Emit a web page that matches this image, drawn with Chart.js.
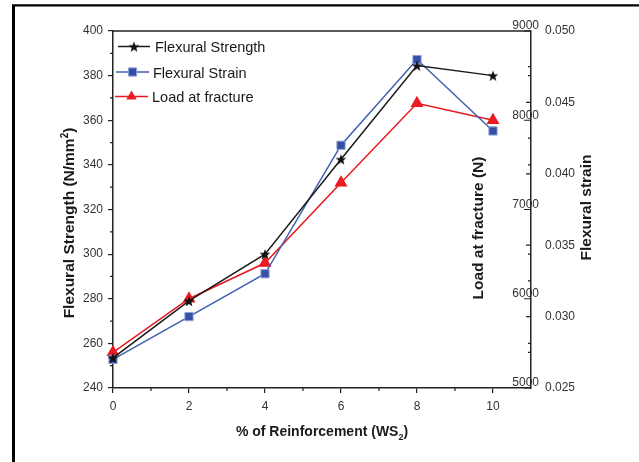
<!DOCTYPE html>
<html>
<head>
<meta charset="utf-8">
<script src="https://cdn.jsdelivr.net/npm/chart.js@4.4.0/dist/chart.umd.min.js"></script>
<style>
  html, body { margin: 0; padding: 0; background: #fff; }
  #wrap { position: relative; width: 639px; height: 462px; }
</style>
</head>
<body>
<div id="wrap"><canvas id="myChart" width="639" height="462"></canvas></div>
<script>
// data
const reinforcement = [0, 2, 4, 6, 8, 10];
const flexuralStrength = [253.5, 279, 300, 342.5, 384.5, 380];
const flexuralStrain = [0.0270, 0.0300, 0.0330, 0.0420, 0.0480, 0.0430];
const loadAtFracture = [5400, 6000, 6400, 7300, 8190, 8000];

// tick values
const xTicks = [0, 2, 4, 6, 8, 10];
const xMinor = [1, 3, 5, 7, 9];
const strengthTicks = [240, 260, 280, 300, 320, 340, 360, 380, 400];
const strengthMinor = [250, 270, 290, 310, 330, 350, 370, 390];
const loadTicks = [5000, 6000, 7000, 8000, 9000];
const loadMinor = [5500, 6500, 7500, 8500];
const strainTicks = [0.025, 0.030, 0.035, 0.040, 0.045, 0.050];
const strainMinor = [0.0275, 0.0325, 0.0375, 0.0425, 0.0475];

const FONT = "'Liberation Sans', Arial, sans-serif";
const AXIS = '#222';
const TXT = '#333';

// filled 5 point star used as point style
function makeStar(size, color) {
    const c = document.createElement('canvas');
    c.width = size; c.height = size;
    const g = c.getContext('2d');
    const cx = size / 2, cy = size / 2, R = size / 2 - 0.3, r = R * 0.42;
    g.beginPath();
    for (let i = 0; i < 10; i++) {
        const rad = i % 2 === 0 ? R : r;
        const ang = -Math.PI / 2 + i * Math.PI / 5;
        g.lineTo(cx + rad * Math.cos(ang), cy + rad * Math.sin(ang) + 0.6);
    }
    g.closePath();
    g.fillStyle = color;
    g.fill();
    return c;
}
const starImg = makeStar(12, '#111');

function pts(ys) {
    return reinforcement.map((x, i) => ({x: x, y: ys[i]}));
}

const datasets = [
    {
        label: 'Flexural Strength',
        data: pts(flexuralStrength),
        yAxisID: 'y',
        borderColor: '#1a1a1a',
        backgroundColor: '#111',
        borderWidth: 1.5,
        pointStyle: starImg,
        pointRadius: 6
    },
    {
        label: 'Flexural Strain',
        data: pts(flexuralStrain),
        yAxisID: 'yStrain',
        borderColor: '#3f5fb0',
        backgroundColor: '#3350a6',
        pointBorderColor: '#8ea0d4',
        pointBorderWidth: 1,
        borderWidth: 1.5,
        pointStyle: 'rect',
        pointRadius: 5.8
    },
    {
        label: 'Load at fracture',
        data: pts(loadAtFracture),
        yAxisID: 'yLoad',
        borderColor: '#e8191f',
        backgroundColor: '#ea1c24',
        borderWidth: 1.5,
        pointStyle: 'triangle',
        pointRadius: 6
    }
];

function setTicks(values) {
    return scale => { scale.ticks = values.map(v => ({value: v})); };
}

// draws text with a raised or lowered small "2"
function drawRich(ctx, parts, size, cx, baseY, rotate) {
    ctx.save();
    ctx.translate(cx, baseY);
    if (rotate) ctx.rotate(-Math.PI / 2);
    const big = 'bold ' + size + 'px ' + FONT;
    const small = 'bold ' + Math.round(size * 0.62) + 'px ' + FONT;
    let w = 0;
    parts.forEach(p => { ctx.font = p.shift ? small : big; w += ctx.measureText(p.t).width; });
    let x = -w / 2;
    ctx.textAlign = 'left';
    ctx.textBaseline = 'alphabetic';
    ctx.fillStyle = '#1a1a1a';
    parts.forEach(p => {
        ctx.font = p.shift ? small : big;
        ctx.fillText(p.t, x, p.shift || 0);
        x += ctx.measureText(p.t).width;
    });
    ctx.restore();
}

const decorations = {
    id: 'decorations',
    afterDraw(chart) {
        const ctx = chart.ctx;
        const a = chart.chartArea;
        const sx = chart.scales.x, sy = chart.scales.y;
        const sl = chart.scales.yLoad, ss = chart.scales.yStrain;
        ctx.save();

        // outer frame (open on the right and bottom)
        ctx.strokeStyle = '#000';
        ctx.lineWidth = 3;
        ctx.beginPath();
        ctx.moveTo(13.5, 462); ctx.lineTo(13.5, 5);
        ctx.stroke();
        ctx.lineWidth = 2.2;
        ctx.beginPath();
        ctx.moveTo(12, 5.3); ctx.lineTo(639, 5.3);
        ctx.stroke();

        // top border of the plot
        ctx.strokeStyle = AXIS;
        ctx.lineWidth = 1.5;
        ctx.beginPath();
        ctx.moveTo(a.left, a.top); ctx.lineTo(a.right, a.top);
        ctx.stroke();

        ctx.lineWidth = 1.2;
        ctx.beginPath();
        // minor ticks, bottom axis (outward)
        xMinor.forEach(v => {
            const px = sx.getPixelForValue(v);
            ctx.moveTo(px, a.bottom); ctx.lineTo(px, a.bottom + 3);
        });
        // minor ticks, left axis (outward)
        strengthMinor.forEach(v => {
            const py = sy.getPixelForValue(v);
            ctx.moveTo(a.left, py); ctx.lineTo(a.left - 3, py);
        });
        // right axis ticks point inward
        loadTicks.forEach(v => {
            const py = sl.getPixelForValue(v);
            ctx.moveTo(a.right, py); ctx.lineTo(a.right - 7, py);
        });
        loadMinor.forEach(v => {
            const py = sl.getPixelForValue(v);
            ctx.moveTo(a.right, py); ctx.lineTo(a.right - 3, py);
        });
        strainTicks.forEach(v => {
            const py = ss.getPixelForValue(v);
            ctx.moveTo(a.right, py); ctx.lineTo(a.right - 5, py);
        });
        strainMinor.forEach(v => {
            const py = ss.getPixelForValue(v);
            ctx.moveTo(a.right, py); ctx.lineTo(a.right - 3, py);
        });
        ctx.stroke();

        // axis titles
        drawRich(ctx, [{t: 'Flexural Strength (N/mm'}, {t: '2', shift: -6}, {t: ')'}], 15.5, 73.5, 223, true);
        drawRich(ctx, [{t: 'Load at fracture (N)'}], 15.5, 482.5, 228, true);
        drawRich(ctx, [{t: 'Flexural strain'}], 15.5, 590.5, 207.5, true);
        drawRich(ctx, [{t: '% of Reinforcement (WS'}, {t: '2', shift: 4}, {t: ')'}], 14, 322, 436, false);

        // legend
        const rows = [
            {ds: 0, x0: 118, x1: 150, y: 46.5, tx: 155, ty: 51.7},
            {ds: 1, x0: 116, x1: 149, y: 72, tx: 153, ty: 77.5},
            {ds: 2, x0: 115, x1: 148, y: 96.5, tx: 152, ty: 101.5}
        ];
        rows.forEach(r => {
            const d = chart.data.datasets[r.ds];
            ctx.strokeStyle = d.borderColor;
            ctx.lineWidth = d.borderWidth;
            ctx.beginPath();
            ctx.moveTo(r.x0, r.y); ctx.lineTo(r.x1, r.y);
            ctx.stroke();
            ctx.fillStyle = d.backgroundColor;
            ctx.strokeStyle = d.pointBorderColor || d.backgroundColor;
            ctx.lineWidth = d.pointBorderWidth || 0;
            Chart.helpers.drawPoint(ctx, {
                pointStyle: d.pointStyle,
                radius: d.pointRadius,
                rotation: 0,
                borderWidth: d.pointBorderWidth || 0
            }, (r.x0 + r.x1) / 2, r.y);
            ctx.fillStyle = '#1a1a1a';
            ctx.font = '14.5px ' + FONT;
            ctx.textAlign = 'left';
            ctx.textBaseline = 'alphabetic';
            ctx.fillText(d.label, r.tx, r.ty);
        });

        ctx.restore();
    }
};

const tickFont = {family: FONT, size: 12};

new Chart(document.getElementById('myChart').getContext('2d'), {
    type: 'line',
    data: {datasets: datasets},
    options: {
        responsive: false,
        animation: false,
        devicePixelRatio: 1,
        layout: {padding: {top: 31, left: 0, right: 0, bottom: 0}},
        elements: {line: {tension: 0}},
        datasets: {line: {clip: false}},
        plugins: {legend: {display: false}, tooltip: {enabled: false}},
        scales: {
            x: {
                type: 'linear',
                position: 'bottom',
                min: 0,
                max: 11,
                afterBuildTicks: setTicks(xTicks),
                afterFit: s => { s.height = 74; },
                grid: {drawOnChartArea: false, tickLength: 5, color: AXIS, lineWidth: 1.2},
                border: {color: AXIS, width: 1.5},
                ticks: {color: TXT, font: tickFont, padding: 6, maxRotation: 0}
            },
            y: {
                position: 'left',
                min: 240,
                max: 400,
                afterBuildTicks: setTicks(strengthTicks),
                afterFit: s => { s.width = 113; },
                grid: {drawOnChartArea: false, tickLength: 5, color: AXIS, lineWidth: 1.2},
                border: {color: AXIS, width: 1.5},
                ticks: {color: TXT, font: tickFont, padding: 5}
            },
            yLoad: {
                position: 'right',
                weight: 0,
                min: 5000,
                max: 9000,
                afterBuildTicks: setTicks(loadTicks),
                afterFit: s => { s.width = 0; },
                grid: {drawOnChartArea: false, drawTicks: false},
                border: {color: AXIS, width: 1.5},
                ticks: {
                    color: TXT, font: tickFont, mirror: true, padding: 8, labelOffset: -5,
                    callback: v => String(v)
                }
            },
            yStrain: {
                position: 'right',
                weight: 1,
                min: 0.025,
                max: 0.05,
                afterBuildTicks: setTicks(strainTicks),
                afterFit: s => { s.width = 108; },
                grid: {display: false},
                border: {display: false},
                ticks: {
                    color: TXT, font: tickFont, padding: 6,
                    callback: v => v.toFixed(3)
                }
            }
        }
    },
    plugins: [decorations]
});
</script>
</body>
</html>
